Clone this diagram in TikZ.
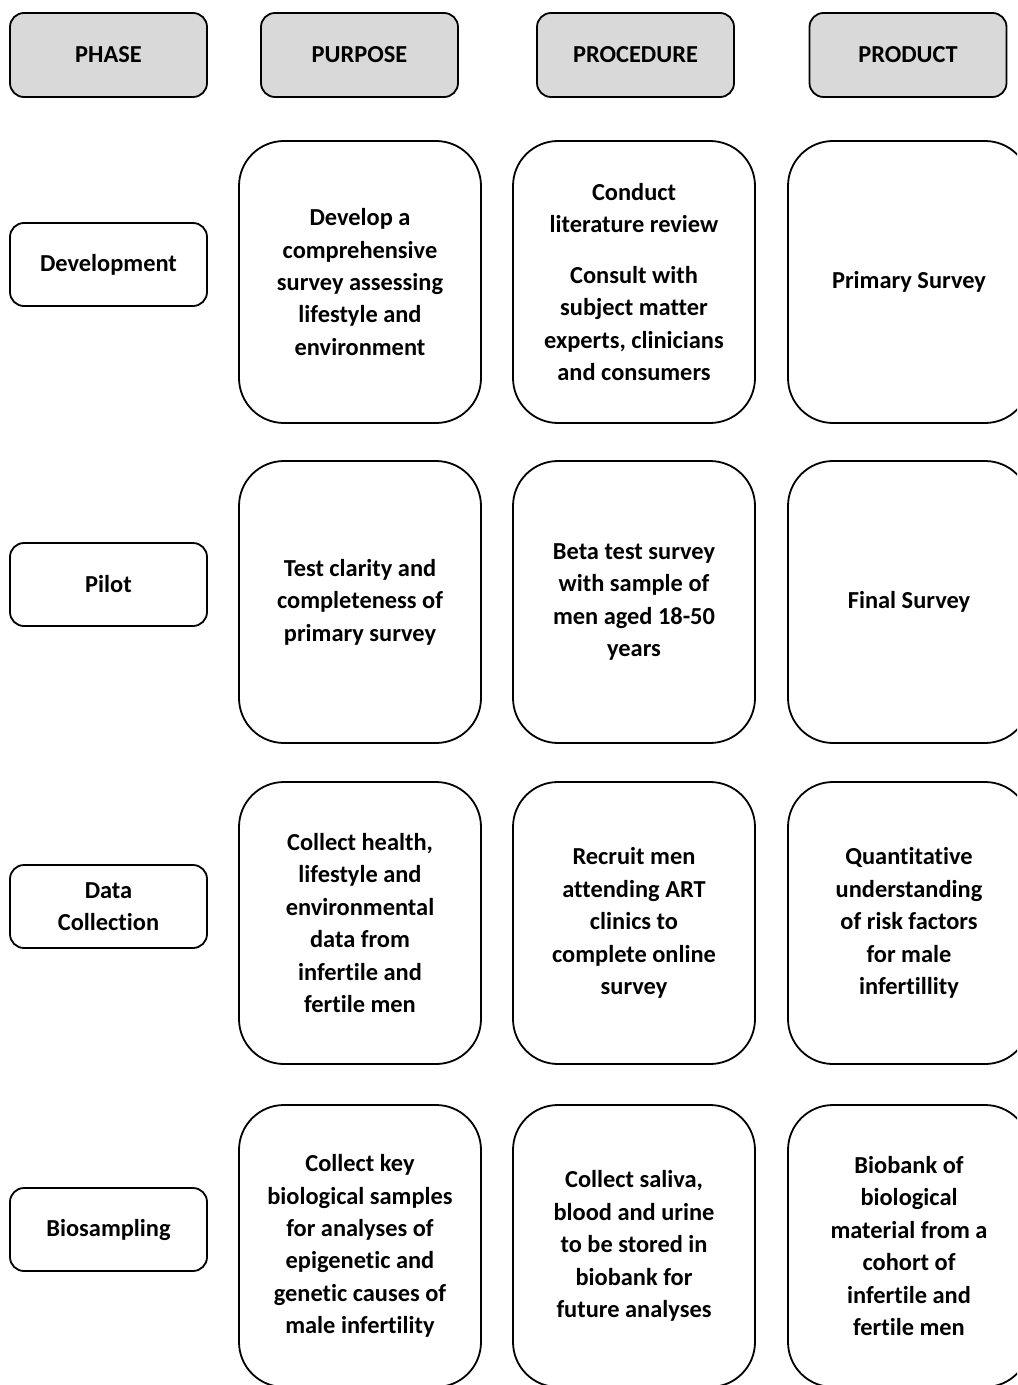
\documentclass[tikz,border=0pt]{standalone}
\usepackage{fontspec}
\setmainfont{Carlito}[Ligatures=NoCommon]
\definecolor{hdrgray}{HTML}{D9D9D9}
\tikzset{
  txt/.style={font=\bfseries\fontsize{24.5}{32.5}\selectfont, align=center},
  hdr/.style={txt, draw, line width=1.8bp, rounded corners=14bp, fill=hdrgray,
    minimum width=197bp, minimum height=84bp, inner sep=0pt},
  phasebox/.style={txt, draw, line width=1.8bp, rounded corners=14bp,
    minimum width=197bp, minimum height=83bp, inner sep=0pt},
  cell/.style={txt, draw, line width=1.8bp, rounded corners=45bp,
    minimum width=242bp, minimum height=282bp, inner sep=0pt},
}
\begin{document}
\begin{tikzpicture}[x=1bp, y=-1bp]
\useasboundingbox (0,0) rectangle (1017,1385);
\clip (0,0) rectangle (1017,1385);
% headers
\node[hdr] (hphase) at (108.5,55) {PHASE};
\node[hdr] (hpurpose) at (359.5,55) {PURPOSE};
\node[hdr] (hprocedure) at (635.5,55) {PROCEDURE};
\node[hdr] (hproduct) at (908,55) {PRODUCT};
% phases
\node[phasebox] (pdev) at (108.5,264.5) {Development};
\node[phasebox] (ppilot) at (108.5,584.5) {Pilot};
\node[phasebox] (pdata) at (108.5,906.5) {Data\\Collection};
\node[phasebox] (pbio) at (108.5,1229.5) {Biosampling};
% row 1
\node[cell] (pu1) at (360,282) {Develop a\\comprehensive\\survey assessing\\lifestyle and\\environment};
\node[cell] (pr1) at (634,282) {Conduct\\literature review\\[18bp]Consult with\\subject matter\\experts, clinicians\\and consumers};
\node[cell] (po1) at (909,282) {Primary Survey};
% row 2
\node[cell] (pu2) at (360,602) {Test clarity and\\completeness of\\primary survey};
\node[cell] (pr2) at (634,602) {Beta test survey\\with sample of\\men aged 18-50\\years};
\node[cell] (po2) at (909,602) {Final Survey};
% row 3
\node[cell] (pu3) at (360,923) {Collect health,\\lifestyle and\\environmental\\data from\\infertile and\\fertile men};
\node[cell] (pr3) at (634,923) {Recruit men\\attending ART\\clinics to\\complete online\\survey};
\node[cell] (po3) at (909,923) {Quantitative\\understanding\\of risk factors\\for male\\infertillity};
% row 4
\node[cell] (pu4) at (360,1246) {Collect key\\biological samples\\for analyses of\\epigenetic and\\genetic causes of\\male infertility};
\node[cell] (pr4) at (634,1246) {Collect saliva,\\blood and urine\\to be stored in\\biobank for\\future analyses};
\node[cell] (po4) at (909,1246) {Biobank of\\biological\\material from a\\cohort of\\infertile and\\fertile men};
\end{tikzpicture}
\end{document}
